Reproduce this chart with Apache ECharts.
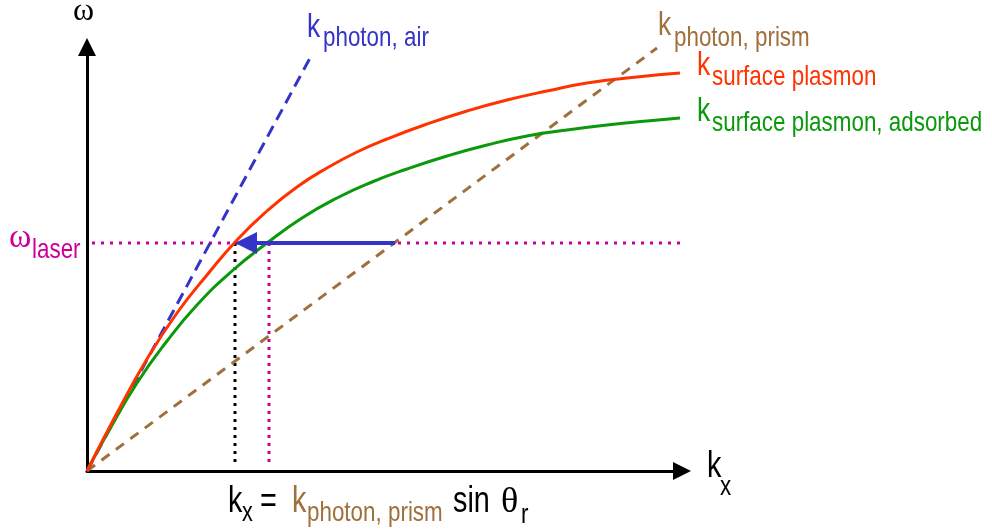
<!DOCTYPE html>
<html>
<head>
<meta charset="utf-8">
<script src="https://cdn.jsdelivr.net/npm/echarts@6/dist/echarts.min.js"></script>
<style>
  html, body { margin: 0; padding: 0; background: #fff; }
  #chart { width: 992px; height: 532px; }
</style>
</head>
<body>
<div id="chart"></div>
<script>
// Dispersion curves: wavevector k_x (horizontal) against frequency ω (vertical), arbitrary units
const surfacePlasmon = [[0,0],[30,58],[60,112],[90,158],[120,196],[150,231],[180,260],[210,284],[240,303],[270,319],[300,332],[340,347],[380,360],[420,371],[460,380],[500,388],[550,394],[593,398]];
const surfacePlasmonAdsorbed = [[0,0],[20,37],[50,88],[80,130],[110,166],[145,200],[180,228],[215,253],[250,273],[285,289],[320,302],[360,315],[400,326],[440,335],[480,341],[520,346],[560,350],[593,353]];
const photonAir = [[0,0],[223,413]];
const photonPrism = [[0,0],[570,423]];

// Laser frequency and the resonance conditions it meets
const omegaLaser = 228;
const laserSpan = [5, 593];
const kxMatch = 148;        // ω_laser on the bare surface-plasmon curve
const kxAdsorbed = 182;     // ω_laser on the curve with adsorbate
const kxPrismAtLaser = 308; // ω_laser on the prism light line
const dropTo = 4;

const kRange = [0, 595];
const omegaRange = [0, 424];

const SANS = "'Liberation Sans', Arial, Helvetica, sans-serif";
const SERIF = "'Liberation Serif', 'DejaVu Serif', 'Times New Roman', serif";
const BLUE = '#3434c8', RED = '#ff3300', GREEN = '#0a990a', BROWN = '#a0703c', MAGENTA = '#cc0099';
const ARROW_HEAD = 22;

// text fragment: [text, left, baseline, fontSize, colour, family]
const labelParts = [
  ['\u03c9', 73, 22, 32, '#000', SERIF],
  ['k', 307, 39, 33, BLUE, SANS],
  ['photon, air', 323, 48, 28, BLUE, SANS],
  ['k', 658, 37, 33, BROWN, SANS],
  ['photon, prism', 674, 48, 28, BROWN, SANS],
  ['k', 697, 77, 33, RED, SANS],
  ['surface plasmon', 712, 87, 28, RED, SANS],
  ['k', 697, 123, 33, GREEN, SANS],
  ['surface plasmon, adsorbed', 712, 133, 28, GREEN, SANS],
  ['\u03c9', 9, 250, 34, MAGENTA, SERIF],
  ['laser', 32, 260, 28, MAGENTA, SANS],
  ['k', 707, 480, 36, '#000', SANS],
  ['x', 720, 497, 28, '#000', SANS],
  ['k', 228, 515, 36, '#000', SANS],
  ['x', 242, 523, 27, '#000', SANS],
  ['=', 260, 515, 36, '#000', SANS],
  ['k', 292, 515, 36, BROWN, SANS],
  ['photon, prism', 307, 523, 28, BROWN, SANS],
  ['sin', 453, 515, 36, '#000', SANS],
  ['\u03b8', 501, 515, 36, '#000', SERIF],
  ['r', 521, 525, 28, '#000', SANS]
];

function textGraphic(p) {
  const isSerif = p[5] === SERIF;
  return {
    type: 'text',
    x: p[1],
    y: p[2] - (isSerif ? 0.3375 : 0.3465) * p[3],
    scaleX: isSerif ? 1 : 0.8,
    silent: true,
    style: {
      text: p[0],
      fontSize: p[3],
      fontFamily: p[5],
      fill: p[4],
      align: 'left',
      verticalAlign: 'middle'
    }
  };
}

const chart = echarts.init(document.getElementById('chart'), null, { renderer: 'canvas' });

const axisCommon = {
  type: 'value',
  axisLabel: { show: false },
  axisTick: { show: false },
  splitLine: { show: false },
  axisLine: {
    show: true,
    onZero: false,
    symbol: ['none', 'triangle'],
    symbolSize: [18, 18],
    lineStyle: { color: '#000', width: 3 }
  }
};

const plain = (color, width, type) => ({ color, width, type, cap: 'butt' });

chart.setOption({
  animation: false,
  backgroundColor: '#fff',
  grid: { left: 87, right: 310, top: 47, bottom: 61 },
  xAxis: Object.assign({ min: kRange[0], max: kRange[1] }, axisCommon),
  yAxis: Object.assign({ min: omegaRange[0], max: omegaRange[1] }, axisCommon),
  series: [
    { type: 'line', data: photonPrism, symbol: 'none', lineStyle: plain(BROWN, 3, [10, 8]), z: 2 },
    { type: 'line', data: photonAir, symbol: 'none', lineStyle: plain(BLUE, 3, [12, 7]), z: 2 },
    { type: 'line', data: [[laserSpan[0], omegaLaser], [laserSpan[1], omegaLaser]], symbol: 'none',
      lineStyle: plain(MAGENTA, 3, [3, 6]), z: 1 },
    { type: 'line', data: [[kxMatch, omegaLaser], [kxMatch, dropTo]], symbol: 'none',
      lineStyle: plain('#000', 3, [3, 5]), z: 1 },
    { type: 'line', data: [[kxAdsorbed, omegaLaser], [kxAdsorbed, dropTo]], symbol: 'none',
      lineStyle: plain(MAGENTA, 3, [3, 5]), z: 1 },
    { type: 'line', data: surfacePlasmonAdsorbed, symbol: 'none', smooth: true,
      lineStyle: plain(GREEN, 3, 'solid'), z: 3 },
    { type: 'line', data: surfacePlasmon, symbol: 'none', smooth: true,
      lineStyle: plain(RED, 3, 'solid'), z: 4 },
    { type: 'lines', coordinateSystem: 'cartesian2d', z: 5,
      symbol: ['none', 'triangle'], symbolSize: ARROW_HEAD,
      lineStyle: { color: BLUE, width: 4, opacity: 1 },
      data: [{ coords: [[kxPrismAtLaser, omegaLaser], [kxMatch + ARROW_HEAD / 2, omegaLaser]] }] }
  ],
  graphic: labelParts.map(textGraphic)
});
</script>
</body>
</html>
